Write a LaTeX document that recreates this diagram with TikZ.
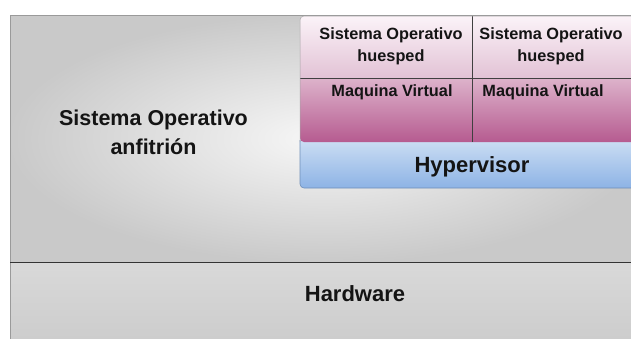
\documentclass[tikz,border=0pt]{standalone}
\usepackage{fontspec}
\setmainfont{Liberation Sans}
\usetikzlibrary{shadings}
\definecolor{hostedge}{HTML}{9A9A9A}
\definecolor{osTop}{HTML}{FBF3F8}
\definecolor{osBot}{HTML}{E2C2D5}
\definecolor{vmTop}{HTML}{DDB3CB}
\definecolor{vmBot}{HTML}{B65B90}
\definecolor{hyTop}{HTML}{D2E2F5}
\definecolor{hyBot}{HTML}{8DB3E5}
\definecolor{hyEdge}{HTML}{6F8FB8}
\definecolor{txt}{HTML}{141414}
\tikzset{
  lbl/.style={text=txt, align=center, inner sep=0pt},
  hosttxt/.style={lbl, font=\bfseries\fontsize{21.5}{29}\selectfont},
  big/.style={lbl, font=\bfseries\fontsize{22}{26}\selectfont},
  small/.style={lbl, font=\bfseries\fontsize{16.3}{22}\selectfont},
}
\begin{document}
\begin{tikzpicture}[x=1pt,y=-1pt]
\useasboundingbox (0,0) rectangle (631,338);
\fill[white] (0,0) rectangle (631,338);
% host OS area
\shade[inner color=gray!6, outer color=gray!42] (10,15) rectangle (640,262);
\shade[top color=gray!30, bottom color=gray!40] (10,262) rectangle (640,345);
\draw[hostedge, line width=0.8pt] (10,345) -- (10,15) -- (640,15);
\draw[black!80, line width=1pt] (10,262) -- (640,262);
% hypervisor
\shade[top color=hyTop, bottom color=hyBot] (645,135) -- (300,135) [rounded corners=4pt] -- (300,188) [sharp corners] -- (645,188) -- cycle;
\draw[hyEdge, line width=0.6pt, rounded corners=4pt] (645,188) -- (300,188) -- (300,140);
% VM layer
\shade[top color=vmTop, bottom color=vmBot] (645,78) -- (300,78) [rounded corners=4pt] -- (300,142) [sharp corners] -- (645,142) -- cycle;
% guest OS layer
\shade[top color=osTop, bottom color=osBot] (645,78) -- (300,78) [rounded corners=4pt] -- (300,16) [sharp corners] -- (645,16) -- cycle;
% borders
\draw[black!75, line width=0.7pt] (300,78) -- (645,78);
\draw[black!75, line width=0.7pt] (472,16) -- (472,142);
\draw[gray!70, line width=0.5pt, rounded corners=4pt] (645,16) -- (300,16) -- (300,142);
% labels
\node[hosttxt] (host) at (153.5,132) {Sistema Operativo\\anfitrión};
\node[big] (hw) at (355,294) {Hardware};
\node[big] (hyp) at (472,167) {Hypervisor};
\node[small] (os1) at (391,46) {Sistema Operativo\\huesped};
\node[small] (os2) at (551,46) {Sistema Operativo\\huesped};
\node[small] (vm1) at (392,92) {Maquina Virtual};
\node[small] (vm2) at (543,92) {Maquina Virtual};
\end{tikzpicture}
\end{document}
